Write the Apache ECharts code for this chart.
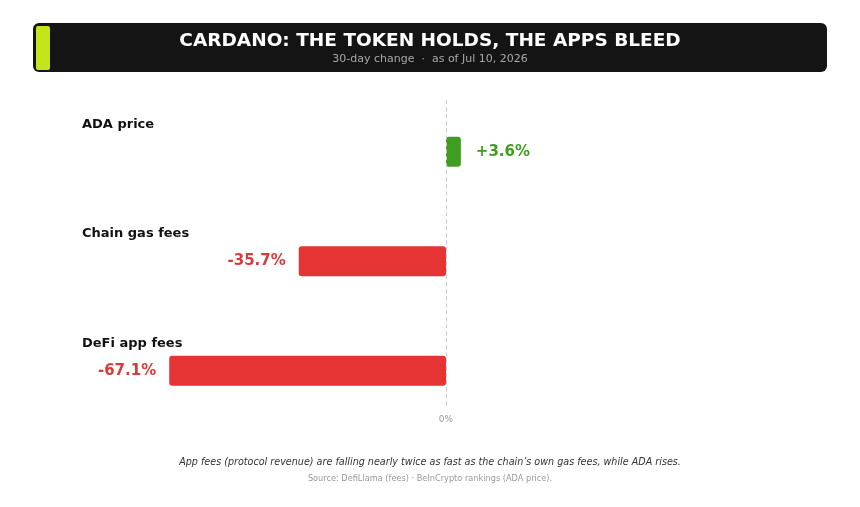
<!DOCTYPE html>
<html>
<head>
<meta charset="utf-8">
<script src="https://cdn.jsdelivr.net/npm/echarts@6/dist/echarts.min.js"></script>
<style>
html, body { margin: 0; padding: 0; background: #fff; }
#main { width: 860px; height: 507px; }
</style>
</head>
<body>
<div id="main"></div>
<script>
// data
var categories = ['ADA price', 'Chain gas fees', 'DeFi app fees'];
var changes = [3.6, -35.7, -67.1];
var zeroLineRange = [0.03, 2.84]; // in row units, for the dashed 0% line

var GREEN = '#3f9e22', RED = '#e63333';
var GREEN_TXT = '#3f9e22', RED_TXT = '#dc3a3a';
var FONT = 'DejaVu Sans';

var chart = echarts.init(document.getElementById('main'));

chart.setOption({
	animation : false,
	backgroundColor : '#fff',
	textStyle : {
		fontFamily : FONT
	},
	graphic : [ { // header bar
		type : 'rect',
		shape : { x : 33, y : 23, width : 794, height : 49, r : 6 },
		style : { fill : '#141414' },
		silent : true
	}, {
		type : 'rect',
		shape : { x : 36, y : 26, width : 14, height : 44, r : 2 },
		style : { fill : '#c5e51b' },
		silent : true
	}, { // footer notes
		type : 'text',
		left : 'center',
		top : 457,
		style : {
			text : 'App fees (protocol revenue) are falling nearly twice as fast as the chain\u2019s own gas fees, while ADA rises.',
			fill : '#333',
			font : 'italic 9.6px "DejaVu Sans"'
		}
	}, {
		type : 'text',
		left : 'center',
		top : 475,
		style : {
			text : 'Source: DefiLlama (fees) \u00b7 BeInCrypto rankings (ADA price).',
			fill : '#999',
			font : '8.2px "DejaVu Sans"'
		}
	} ],
	title : {
		text : 'CARDANO: THE TOKEN HOLDS, THE APPS BLEED',
		subtext : '30-day change  \u00b7  as of Jul 10, 2026',
		left : 'center',
		top : 27,
		itemGap : 3,
		textStyle : {
			color : '#fff',
			fontSize : 18.5,
			fontWeight : 'bold',
			fontFamily : FONT
		},
		subtextStyle : {
			color : '#a8a8a8',
			fontSize : 11,
			fontFamily : FONT
		}
	},
	grid : {
		left : 116,
		width : 660,
		top : 97,
		height : 328.5
	},
	xAxis : {
		type : 'value',
		min : -80,
		max : 80,
		interval : 80,
		axisLine : { show : false },
		axisTick : { show : false },
		splitLine : { show : false },
		axisLabel : {
			margin : -10,
			color : '#999',
			fontSize : 9,
			formatter : function(v) {
				return v === 0 ? '0%' : '';
			}
		}
	},
	yAxis : [ {
		type : 'category',
		inverse : true,
		data : categories,
		axisLine : { show : false },
		axisTick : { show : false },
		axisLabel : {
			align : 'left',
			margin : 34,
			verticalAlign : 'bottom',
			lineHeight : 55,
			color : '#111',
			fontSize : 13,
			fontWeight : 'bold'
		}
	}, {
		type : 'value',
		inverse : true,
		min : 0,
		max : 3,
		show : false
	} ],
	series : [ {
		type : 'bar',
		barWidth : 30,
		data : changes.map(function(v) {
			var pos = v >= 0;
			return {
				value : v,
				itemStyle : {
					color : pos ? GREEN : RED,
					borderRadius : 3
				},
				label : {
					show : true,
					position : pos ? 'right' : 'left',
					distance : pos ? 15 : 13,
					color : pos ? GREEN_TXT : RED_TXT,
					fontSize : 15,
					fontWeight : 'bold',
					formatter : (pos ? '+' : '') + v.toFixed(1) + '%'
				}
			};
		}),
		z : 3
	}, { // dashed zero line
		type : 'line',
		yAxisIndex : 1,
		data : [],
		silent : true,
		markLine : {
			symbol : [ 'none', 'none' ],
			silent : true,
			label : { show : false },
			lineStyle : {
				color : '#c8c8c8',
				type : [ 4, 3 ],
				width : 1
			},
			data : [ [ {
				coord : [ 0, zeroLineRange[0] ]
			}, {
				coord : [ 0, zeroLineRange[1] ]
			} ] ]
		},
		z : 1
	} ]
});
</script>
</body>
</html>
